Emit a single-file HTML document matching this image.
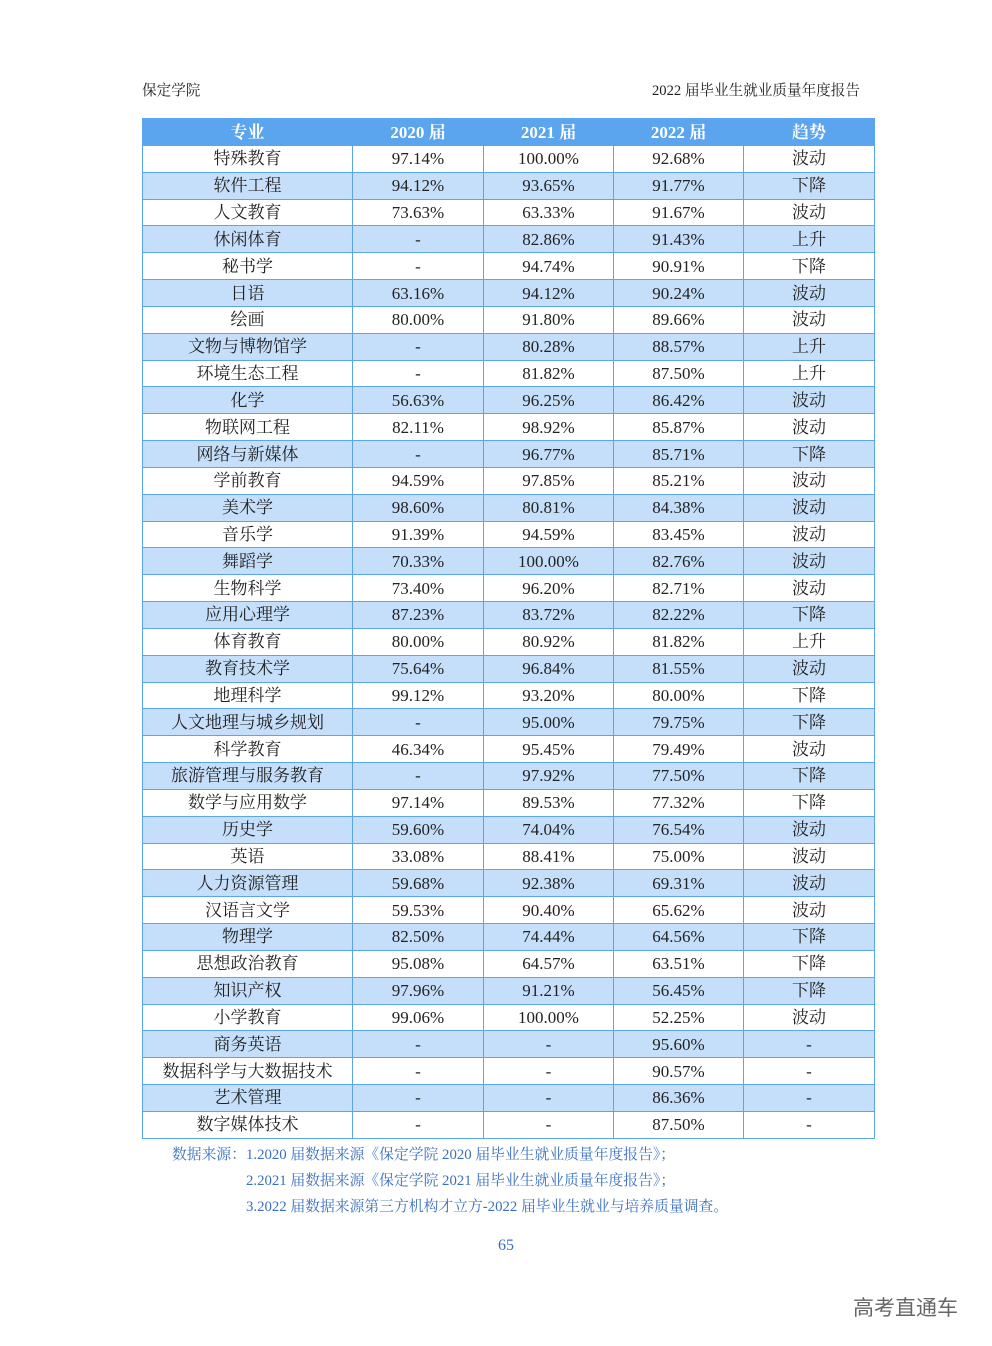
<!DOCTYPE html>
<html><head><meta charset="utf-8"><style>
body{margin:0;width:992px;height:1346px;background:#fff;position:relative;font-family:"Liberation Serif","Noto Serif CJK SC",serif;color:#222;overflow:hidden}
.hd{position:absolute;top:79px;font-size:14.6px;color:#222}
table{position:absolute;left:142px;top:118px;width:732px;border-collapse:collapse;table-layout:fixed}
td,th{border:1px solid #5aa5ee;text-align:center;font-size:17px;padding:0;height:25.84px;line-height:25px;white-space:nowrap;overflow:hidden}
th{background:#5aa5ee;color:#fff;font-weight:bold;height:26px;border-color:#5aa5ee}
tr:nth-child(odd) td{background:#c5dffa}
.fn{position:absolute;font-size:14.8px;color:#3a6fc0}
</style></head><body>
<div class="hd" style="left:142px">保定学院</div>
<div class="hd" style="left:652px">2022 届毕业生就业质量年度报告</div>
<table>
<colgroup><col style="width:210px"><col style="width:131px"><col style="width:130px"><col style="width:130px"><col style="width:131px"></colgroup>
<tr><th>专业</th><th>2020 届</th><th>2021 届</th><th>2022 届</th><th>趋势</th></tr>
<tr><td>特殊教育</td><td>97.14%</td><td>100.00%</td><td>92.68%</td><td>波动</td></tr>
<tr><td>软件工程</td><td>94.12%</td><td>93.65%</td><td>91.77%</td><td>下降</td></tr>
<tr><td>人文教育</td><td>73.63%</td><td>63.33%</td><td>91.67%</td><td>波动</td></tr>
<tr><td>休闲体育</td><td>-</td><td>82.86%</td><td>91.43%</td><td>上升</td></tr>
<tr><td>秘书学</td><td>-</td><td>94.74%</td><td>90.91%</td><td>下降</td></tr>
<tr><td>日语</td><td>63.16%</td><td>94.12%</td><td>90.24%</td><td>波动</td></tr>
<tr><td>绘画</td><td>80.00%</td><td>91.80%</td><td>89.66%</td><td>波动</td></tr>
<tr><td>文物与博物馆学</td><td>-</td><td>80.28%</td><td>88.57%</td><td>上升</td></tr>
<tr><td>环境生态工程</td><td>-</td><td>81.82%</td><td>87.50%</td><td>上升</td></tr>
<tr><td>化学</td><td>56.63%</td><td>96.25%</td><td>86.42%</td><td>波动</td></tr>
<tr><td>物联网工程</td><td>82.11%</td><td>98.92%</td><td>85.87%</td><td>波动</td></tr>
<tr><td>网络与新媒体</td><td>-</td><td>96.77%</td><td>85.71%</td><td>下降</td></tr>
<tr><td>学前教育</td><td>94.59%</td><td>97.85%</td><td>85.21%</td><td>波动</td></tr>
<tr><td>美术学</td><td>98.60%</td><td>80.81%</td><td>84.38%</td><td>波动</td></tr>
<tr><td>音乐学</td><td>91.39%</td><td>94.59%</td><td>83.45%</td><td>波动</td></tr>
<tr><td>舞蹈学</td><td>70.33%</td><td>100.00%</td><td>82.76%</td><td>波动</td></tr>
<tr><td>生物科学</td><td>73.40%</td><td>96.20%</td><td>82.71%</td><td>波动</td></tr>
<tr><td>应用心理学</td><td>87.23%</td><td>83.72%</td><td>82.22%</td><td>下降</td></tr>
<tr><td>体育教育</td><td>80.00%</td><td>80.92%</td><td>81.82%</td><td>上升</td></tr>
<tr><td>教育技术学</td><td>75.64%</td><td>96.84%</td><td>81.55%</td><td>波动</td></tr>
<tr><td>地理科学</td><td>99.12%</td><td>93.20%</td><td>80.00%</td><td>下降</td></tr>
<tr><td>人文地理与城乡规划</td><td>-</td><td>95.00%</td><td>79.75%</td><td>下降</td></tr>
<tr><td>科学教育</td><td>46.34%</td><td>95.45%</td><td>79.49%</td><td>波动</td></tr>
<tr><td>旅游管理与服务教育</td><td>-</td><td>97.92%</td><td>77.50%</td><td>下降</td></tr>
<tr><td>数学与应用数学</td><td>97.14%</td><td>89.53%</td><td>77.32%</td><td>下降</td></tr>
<tr><td>历史学</td><td>59.60%</td><td>74.04%</td><td>76.54%</td><td>波动</td></tr>
<tr><td>英语</td><td>33.08%</td><td>88.41%</td><td>75.00%</td><td>波动</td></tr>
<tr><td>人力资源管理</td><td>59.68%</td><td>92.38%</td><td>69.31%</td><td>波动</td></tr>
<tr><td>汉语言文学</td><td>59.53%</td><td>90.40%</td><td>65.62%</td><td>波动</td></tr>
<tr><td>物理学</td><td>82.50%</td><td>74.44%</td><td>64.56%</td><td>下降</td></tr>
<tr><td>思想政治教育</td><td>95.08%</td><td>64.57%</td><td>63.51%</td><td>下降</td></tr>
<tr><td>知识产权</td><td>97.96%</td><td>91.21%</td><td>56.45%</td><td>下降</td></tr>
<tr><td>小学教育</td><td>99.06%</td><td>100.00%</td><td>52.25%</td><td>波动</td></tr>
<tr><td>商务英语</td><td>-</td><td>-</td><td>95.60%</td><td>-</td></tr>
<tr><td>数据科学与大数据技术</td><td>-</td><td>-</td><td>90.57%</td><td>-</td></tr>
<tr><td>艺术管理</td><td>-</td><td>-</td><td>86.36%</td><td>-</td></tr>
<tr><td>数字媒体技术</td><td>-</td><td>-</td><td>87.50%</td><td>-</td></tr>
</table>
<div class="fn" style="left:172px;top:1143px">数据来源：1.2020 届数据来源《保定学院 2020 届毕业生就业质量年度报告》；</div>
<div class="fn" style="left:246px;top:1169px">2.2021 届数据来源《保定学院 2021 届毕业生就业质量年度报告》；</div>
<div class="fn" style="left:246px;top:1195px">3.2022 届数据来源第三方机构才立方-2022 届毕业生就业与培养质量调查。</div>
<div class="fn" style="left:498px;top:1237px;font-size:16px">65</div>
<div style="position:absolute;left:853px;top:1292px;font-size:21px;color:#666;font-family:'Liberation Sans','Noto Sans CJK SC',sans-serif">高考直通车</div>
</body></html>
